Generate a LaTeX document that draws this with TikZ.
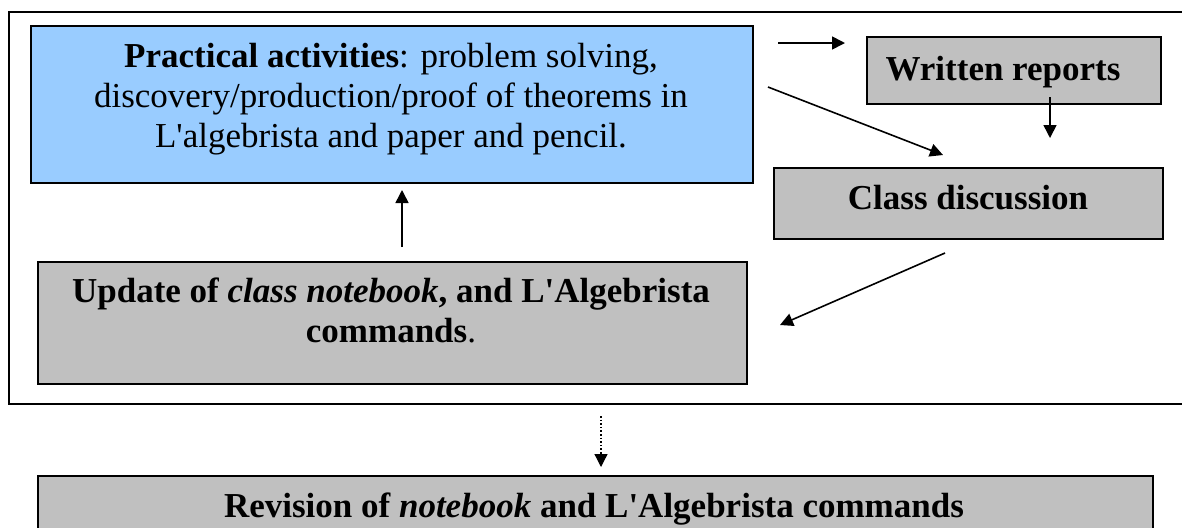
\documentclass[tikz,border=0pt]{standalone}
\usepackage{fontspec}
\setmainfont{Liberation Serif}[Ligatures=TeXOff]
\definecolor{PaleBlue}{RGB}{153, 204, 255}
\definecolor{BoxGray}{RGB}{192, 192, 192}
\usetikzlibrary{arrows.meta, positioning}

\tikzset{
	panel/.style={draw, line width=1pt, inner sep=0pt, anchor=north west},
	caption/.style={font=\fontsize{17.5}{20}\selectfont, align=center, inner sep=0pt},
	flow/.style={line width=0.8pt, -{Triangle[length=6.5pt, width=6.5pt]}}
}

\begin{document}
\begin{tikzpicture}[x=0.5pt, y=-0.5pt]
	\clip (0,0) rectangle (1182,527);
	% outer frame and boxes
	\node[panel, line width=1.1pt, minimum width=596pt, minimum height=196pt] (cycle) at (8,11) {};
	\node[panel, fill=PaleBlue, minimum width=361pt, minimum height=78.5pt] (practical) at (30,25) {};
	\node[panel, fill=BoxGray, minimum width=147pt, minimum height=33.5pt] (reports) at (866,36) {};
	\node[panel, fill=BoxGray, minimum width=194.5pt, minimum height=35.5pt] (discussion) at (773,167) {};
	\node[panel, fill=BoxGray, minimum width=354.5pt, minimum height=61pt] (update) at (37,261) {};
	\node[panel, fill=BoxGray, minimum width=557.5pt, minimum height=45pt] (revision) at (37,475) {};

	% texts
	\node[caption] (practicalText) at (391,99) {\textbf{Practical activities}: problem solving,\\
		discovery/production/proof of theorems in\\
		L'algebrista and paper and pencil.};
	\node[caption, font=\fontsize{17.5}{20}\selectfont\bfseries] (reportsText) at (1003,72) {Written reports};
	\node[caption, font=\fontsize{17.5}{20}\selectfont\bfseries] (discussionText) at (968,198) {Class discussion};
	\node[caption] (updateText) at (391,310) {\textbf{Update of \textit{class notebook}, and L'Algebrista}\\
		\textbf{commands}.};
	\node[caption, font=\fontsize{17.5}{20}\selectfont\bfseries] (revisionText) at (594,509) {Revision of \textit{notebook} and L'Algebrista commands};

	% arrow ends
	\coordinate (toReportsA) at (778,43);
	\coordinate (toReportsB) at (845,43);
	\coordinate (toDiscussA) at (768,87);
	\coordinate (toDiscussB) at (943,155);
	\coordinate (downA) at (1050,97);
	\coordinate (downB) at (1050,138);
	\coordinate (backA) at (945,253);
	\coordinate (backB) at (780,325);
	\coordinate (upA) at (402,247);
	\coordinate (upB) at (402,190);
	\coordinate (outA) at (601,416);
	\coordinate (outB) at (601,467);

	\draw[flow] (toReportsA) -- (toReportsB);
	\draw[flow] (toDiscussA) -- (toDiscussB);
	\draw[flow] (downA) -- (downB);
	\draw[flow] (backA) -- (backB);
	\draw[flow] (upA) -- (upB);
	\draw[flow, densely dotted, line width=0.6pt] (outA) -- (outB);
\end{tikzpicture}
\end{document}
